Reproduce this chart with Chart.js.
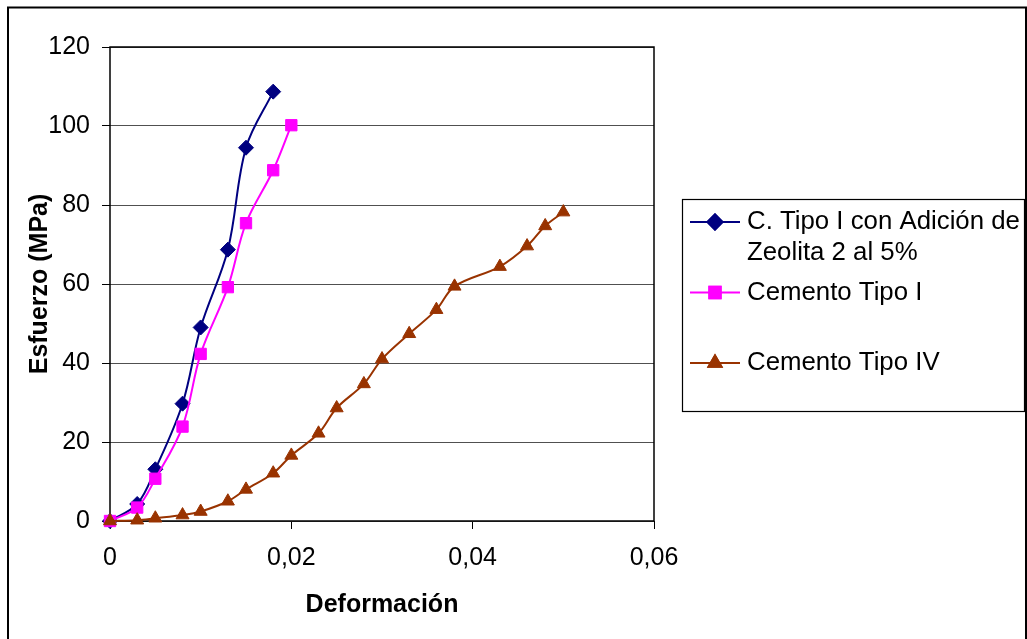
<!DOCTYPE html>
<html>
<head>
<meta charset="utf-8">
<title>Esfuerzo vs Deformación</title>
<script src="https://cdn.jsdelivr.net/npm/chart.js@4.4.1/dist/chart.umd.min.js"></script>
<style>
  html, body { margin: 0; padding: 0; background: #fff; }
  canvas { display: block; }
</style>
</head>
<body>
<canvas id="myChart" width="1027" height="639"></canvas>
<script>
// deformación (x) / esfuerzo en MPa (y) de cada ensayo
const xZeolita = [0, 0.003, 0.005, 0.008, 0.010, 0.013, 0.015, 0.018];
const yZeolita = [0, 4.3, 13.1, 29.7, 49.0, 68.7, 94.5, 108.7];

const xTipoI = [0, 0.003, 0.005, 0.008, 0.010, 0.013, 0.015, 0.018, 0.020];
const yTipoI = [0, 3.4, 10.7, 23.9, 42.3, 59.2, 75.4, 88.8, 100.2];

const xTipoIV = [0, 0.003, 0.005, 0.008, 0.010, 0.013, 0.015, 0.018, 0.020, 0.023,
                 0.025, 0.028, 0.030, 0.033, 0.036, 0.038, 0.043, 0.046, 0.048, 0.050];
const yTipoIV = [0, 0.2, 0.7, 1.5, 2.4, 5.0, 8.0, 12.1, 16.6, 22.2,
                 28.6, 34.7, 41.0, 47.4, 53.5, 59.4, 64.4, 69.6, 74.7, 78.2];

const seriesNames = [
    ['C. Tipo I con Adición de', 'Zeolita 2 al 5%'],
    ['Cemento Tipo I'],
    ['Cemento Tipo IV']
];

const xTicks = [0, 0.02, 0.04, 0.06];
const xTickLabels = ['0', '0,02', '0,04', '0,06'];
const yTicks = [0, 20, 40, 60, 80, 100, 120];

const FONT = '"Liberation Sans", Arial, sans-serif';

const toPoints = (xs, ys) => xs.map((x, i) => ({ x: x, y: ys[i] }));

const makeSet = (name, xs, ys, color, style, radius, order) => ({
    label: name.join(' '),
    lines: name,
    data: toPoints(xs, ys),
    borderColor: color,
    backgroundColor: color,
    borderWidth: 2,
    tension: 0.35,
    clip: false,
    pointStyle: style,
    pointRadius: radius,
    pointBorderWidth: 1,
    pointBackgroundColor: color,
    pointBorderColor: color,
    order: order
});

// marco exterior, borde del área de trazado y leyenda
const framePlugin = {
    id: 'frame',
    beforeDatasetsDraw(chart) {
        const { ctx, chartArea: a } = chart;
        ctx.save();
        ctx.strokeStyle = '#000';
        ctx.lineWidth = 1.5;
        ctx.strokeRect(a.left, a.top, a.right - a.left, a.bottom - a.top);
        ctx.restore();
    },
    afterDraw(chart) {
        const ctx = chart.ctx;
        ctx.save();
        ctx.strokeStyle = '#000';
        ctx.lineWidth = 2;
        ctx.strokeRect(8, 7.5, 1018, 640);

        // leyenda
        ctx.lineWidth = 1.2;
        ctx.strokeRect(682.5, 199.5, 342, 212);
        ctx.font = '25.8px ' + FONT;
        ctx.fillStyle = '#000';
        ctx.textBaseline = 'middle';
        ctx.textAlign = 'left';
        chart.data.datasets.forEach((ds, i) => {
            const y = 222 + i * 70.5;
            ctx.strokeStyle = ds.borderColor;
            ctx.lineWidth = 2;
            ctx.beginPath();
            ctx.moveTo(690, y);
            ctx.lineTo(740, y);
            ctx.stroke();
            ctx.fillStyle = ds.backgroundColor;
            Chart.helpers.drawPoint(ctx, {
                pointStyle: ds.pointStyle,
                radius: ds.pointRadius,
                borderWidth: 1,
                rotation: 0
            }, 715, y);
            ctx.fill();
            ctx.stroke();
            ctx.fillStyle = '#000';
            ds.lines.forEach((t, j) => ctx.fillText(t, 747, y + j * 31));
        });
        ctx.restore();
    }
};

new Chart(document.getElementById('myChart').getContext('2d'), {
    type: 'line',
    data: {
        datasets: [
            makeSet(seriesNames[0], xZeolita, yZeolita, '#000080', 'rectRot', 7.5, 2),
            makeSet(seriesNames[1], xTipoI, yTipoI, '#FF00FF', 'rect', 8, 1),
            makeSet(seriesNames[2], xTipoIV, yTipoIV, '#993300', 'triangle', 7.5, 0)
        ]
    },
    options: {
        responsive: false,
        animation: false,
        layout: { padding: { top: 47, right: 373, left: 0, bottom: 0 } },
        plugins: {
            legend: { display: false },
            tooltip: { enabled: false }
        },
        scales: {
            x: {
                type: 'linear',
                min: 0,
                max: 0.06,
                afterFit: s => { s.height = 118; },
                afterBuildTicks: s => { s.ticks = xTicks.map(v => ({ value: v })); },
                grid: { drawOnChartArea: false, drawTicks: true, tickLength: 8, tickColor: '#000' },
                border: { display: false },
                ticks: {
                    padding: 14,
                    maxRotation: 0,
                    autoSkip: false,
                    color: '#000',
                    font: { size: 25, family: FONT },
                    callback: (v, i) => xTickLabels[i]
                },
                title: {
                    display: true,
                    text: 'Deformación',
                    color: '#000',
                    font: { size: 25, weight: 'bold', family: FONT },
                    padding: { top: 0, bottom: 19 }
                }
            },
            y: {
                type: 'linear',
                min: 0,
                max: 120,
                afterFit: s => { s.width = 110; },
                afterBuildTicks: s => { s.ticks = yTicks.map(v => ({ value: v })); },
                grid: { color: '#505050', lineWidth: 1, tickLength: 8, tickColor: '#000' },
                border: { display: false },
                ticks: {
                    padding: 12,
                    color: '#000',
                    font: { size: 25, family: FONT },
                    callback: v => String(v)
                },
                title: {
                    display: true,
                    text: 'Esfuerzo (MPa)',
                    color: '#000',
                    font: { size: 25, weight: 'bold', family: FONT },
                    padding: { top: 25, bottom: 0 }
                }
            }
        }
    },
    plugins: [framePlugin]
});
</script>
</body>
</html>
